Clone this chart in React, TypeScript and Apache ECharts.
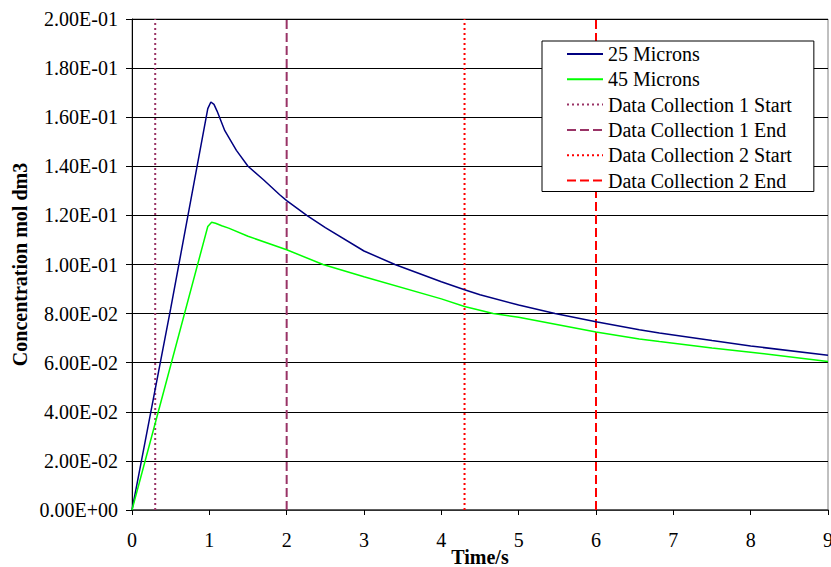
import React, { useEffect, useRef } from "react";
import * as echarts from "echarts";

const timeBlue = [0, 0.125, 0.5, 0.98, 1.02, 1.06, 1.1, 1.2, 1.35, 1.5, 1.7, 1.91, 2.0, 2.26, 2.5, 3.0, 3.4, 4.0, 4.3, 4.5, 5.0, 5.47, 6.0, 6.56, 6.82, 7.5, 8.0, 9.0];
const micron25 = [0, 0.0205, 0.082, 0.1635, 0.1662, 0.1652, 0.1625, 0.1545, 0.1465, 0.14, 0.1345, 0.1284, 0.126, 0.12, 0.115, 0.1055, 0.1, 0.093, 0.0897, 0.0877, 0.0835, 0.08, 0.0767, 0.0734, 0.0721, 0.069, 0.0668, 0.063];
const timeGreen = [0, 0.34, 0.98, 1.03, 1.08, 1.16, 1.25, 1.5, 2.0, 2.47, 3.0, 4.0, 4.3, 4.67, 5.0, 6.0, 6.56, 6.82, 7.5, 8.0, 9.0];
const micron45 = [0, 0.04, 0.1155, 0.1172, 0.1168, 0.1158, 0.1148, 0.1115, 0.106, 0.1, 0.095, 0.086, 0.0829, 0.08, 0.0785, 0.0725, 0.0697, 0.0686, 0.066, 0.0643, 0.0605];
const markerNames = ["Data Collection 1 Start", "Data Collection 1 End", "Data Collection 2 Start", "Data Collection 2 End"];
const markerTimes = [0.3, 2, 4.3, 6];
const yMin = 0;
const yMax = 0.2;

const FONT = "Liberation Serif";

function fmtExp(v: number): string {
  if (v === 0) return "0.00E+00";
  const exp = Math.floor(Math.log10(Math.abs(v)) + 1e-9);
  const mant = v / Math.pow(10, exp);
  const sign = exp < 0 ? "-" : "+";
  const e = Math.abs(exp).toString().padStart(2, "0");
  return mant.toFixed(2) + "E" + sign + e;
}

export default function App() {
  const ref = useRef<HTMLDivElement>(null);
  useEffect(() => {
    if (!ref.current) return;
    const chart = echarts.init(ref.current, undefined, { renderer: "svg" });
    const markerStyles = [
      { color: "#993366", type: [2, 3] as any },
      { color: "#993366", type: [9, 4] as any },
      { color: "#FF0000", type: [2, 3] as any },
      { color: "#FF0000", type: [9, 4] as any },
    ];
    const markerSeries = markerNames.map((name, i) => ({
      name,
      type: "line",
      symbol: "none",
      data: [
        [markerTimes[i], yMin],
        [markerTimes[i], yMax],
      ],
      lineStyle: { color: markerStyles[i].color, width: 2, type: markerStyles[i].type },
      itemStyle: { color: markerStyles[i].color },
      z: 3,
    }));
    chart.setOption({
      animation: false,
      textStyle: { fontFamily: FONT, color: "#000" },
      grid: {
        left: 132,
        right: 3,
        top: 19,
        bottom: 57,
        outerBoundsMode: "none",
        containLabel: false,
        show: true,
        borderColor: "#808080",
        borderWidth: 1,
        backgroundColor: "#fff",
      },
      legend: {
        orient: "vertical",
        left: 542,
        top: 41,
        width: 224,
        backgroundColor: "#fff",
        borderColor: "#000",
        borderWidth: 1,
        padding: [3, 22, 1, 24],
        itemGap: 5.3,
        itemWidth: 36,
        itemHeight: 20,
        itemStyle: { opacity: 0 },
        textStyle: { fontFamily: FONT, fontSize: 20, color: "#000" },
        data: ["25 Microns", "45 Microns", ...markerNames],
      },
      xAxis: {
        type: "value",
        min: 0,
        max: 9,
        interval: 1,
        name: "Time/s",
        nameLocation: "middle",
        nameGap: 37,
        nameMoveOverlap: false,
        nameTextStyle: { fontFamily: FONT, fontSize: 20, fontWeight: "bold", color: "#000" },
        axisLine: { show: true, lineStyle: { color: "#404040", width: 1.5 } },
        axisTick: { show: true, length: 5, lineStyle: { color: "#000" } },
        axisLabel: { fontFamily: FONT, fontSize: 20, color: "#000", margin: 20 },
        splitLine: { show: false },
      },
      yAxis: {
        type: "value",
        min: yMin,
        max: yMax,
        interval: 0.02,
        name: "Concentration mol dm3",
        nameLocation: "middle",
        nameGap: 102,
        nameMoveOverlap: false,
        nameTextStyle: { fontFamily: FONT, fontSize: 20, fontWeight: "bold", color: "#000" },
        axisLine: { show: true, lineStyle: { color: "#000", width: 1 } },
        axisTick: { show: true, length: 6, lineStyle: { color: "#000" } },
        axisLabel: { fontFamily: FONT, fontSize: 20, color: "#000", margin: 14, formatter: (v: number) => fmtExp(v) },
        splitLine: { show: true, lineStyle: { color: "#000", width: 1 } },
      },
      series: [
        {
          name: "25 Microns",
          type: "line",
          symbol: "none",
          data: timeBlue.map((t, i) => [t, micron25[i]]),
          lineStyle: { color: "#000080", width: 1.5 },
          itemStyle: { color: "#000080" },
          z: 4,
        },
        {
          name: "45 Microns",
          type: "line",
          symbol: "none",
          data: timeGreen.map((t, i) => [t, micron45[i]]),
          lineStyle: { color: "#00FF00", width: 1.5 },
          itemStyle: { color: "#00FF00" },
          z: 4,
        },
        ...markerSeries,
      ],
    });
    return () => chart.dispose();
  }, []);
  return <div ref={ref} style={{ width: 831, height: 567, position: "absolute", left: 0, top: 0 }} />;
}
